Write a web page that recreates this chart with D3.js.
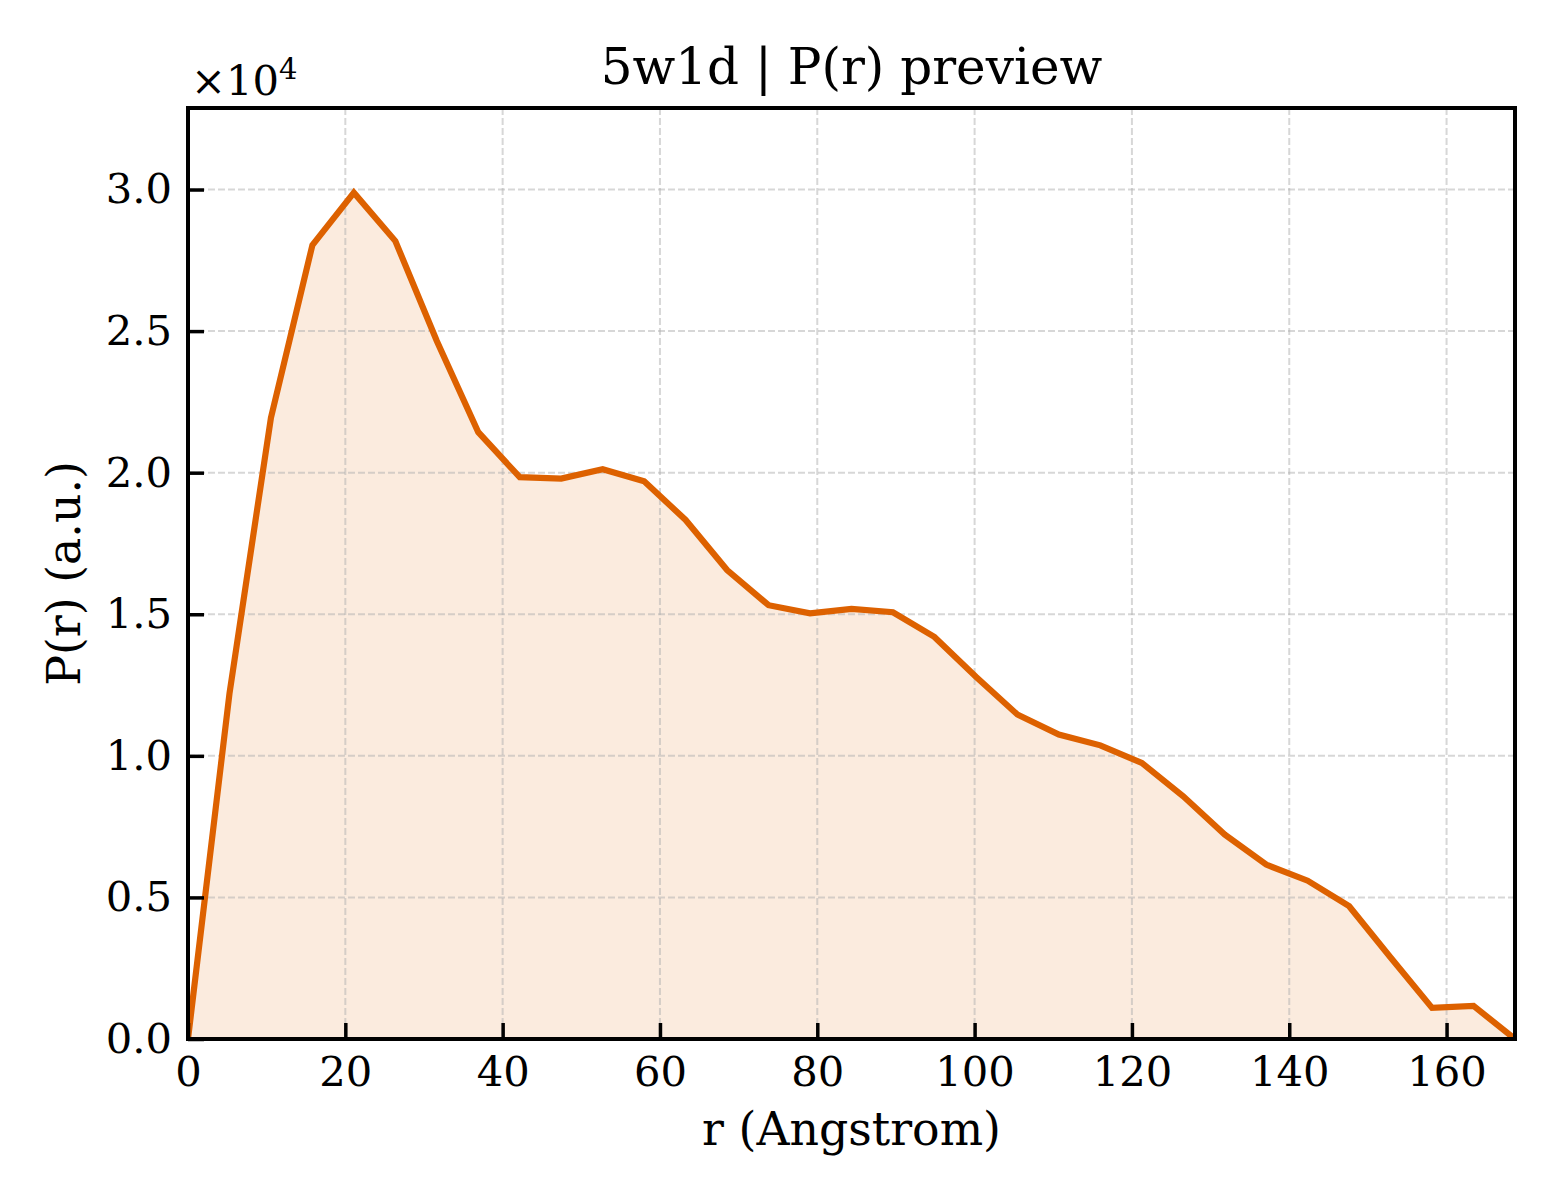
<!DOCTYPE html>
<html><head><meta charset="utf-8">
<script src="https://cdn.jsdelivr.net/npm/d3@7"></script>
<style>body{margin:0;background:#fff;} svg{display:block;}</style>
</head><body>
<svg id="chart" width="1560" height="1200"></svg>
<script>
const rMax = 168.7;
const nPoints = 33;
const pValues = [0, 1.22, 2.194, 2.804, 2.989, 2.818, 2.465, 2.143, 1.984, 1.979, 2.012, 1.970,
  1.833, 1.656, 1.532, 1.503, 1.519, 1.507, 1.420, 1.279, 1.146, 1.075, 1.037, 0.975, 0.857,
  0.722, 0.616, 0.559, 0.469, 0.288, 0.110, 0.117, 0];
const xTicks = [0, 20, 40, 60, 80, 100, 120, 140, 160];
const yTicks = [0, 0.5, 1.0, 1.5, 2.0, 2.5, 3.0];
const titleText = "5w1d | P(r) preview";
const xLabel = "r (Angstrom)";
const yLabel = "P(r) (a.u.)";

const data = pValues.map((v, i) => ({r: i * rMax / (nPoints - 1), p: v}));

const svg = d3.select("#chart");
const m = {left: 188, right: 1515, top: 108, bottom: 1039};
const x = d3.scaleLinear().domain([0, rMax]).range([m.left, m.right]);
const y = d3.scaleLinear().domain([0, 1.1 * d3.max(pValues)]).range([m.bottom, m.top]);
const font = "DejaVu Serif";
const orange = "#dd6100";

svg.append("defs").append("clipPath").attr("id", "clip")
  .append("rect").attr("x", m.left).attr("y", m.top).attr("width", m.right - m.left).attr("height", m.bottom - m.top);

// fill
svg.append("path").datum(data).attr("clip-path", "url(#clip)")
  .attr("fill", orange).attr("fill-opacity", 0.13)
  .attr("d", d3.area().x(d => x(d.r)).y0(y(0)).y1(d => y(d.p)));

// grid
const grid = svg.append("g");
xTicks.forEach(t => grid.append("line").attr("x1", x(t)).attr("x2", x(t)).attr("y1", m.top).attr("y2", m.bottom)
  .attr("stroke", "#b0b0b0").attr("stroke-opacity", 0.5).attr("stroke-width", 2).attr("stroke-dasharray", "7,3"));
yTicks.forEach(t => grid.append("line").attr("x1", m.left).attr("x2", m.right).attr("y1", y(t)).attr("y2", y(t))
  .attr("stroke", "#b0b0b0").attr("stroke-opacity", 0.5).attr("stroke-width", 2).attr("stroke-dasharray", "7,3"));

// line
svg.append("path").datum(data).attr("clip-path", "url(#clip)")
  .attr("fill", "none").attr("stroke", orange).attr("stroke-width", 6.2).attr("stroke-linejoin", "miter")
  .attr("d", d3.line().x(d => x(d.r)).y(d => y(d.p)));

// axes
const xAxis = d3.axisBottom(x).tickValues(xTicks).tickSize(-16).tickPadding(17).tickFormat(d3.format("d"));
const gx = svg.append("g").attr("transform", `translate(0,${m.bottom})`).call(xAxis);
const yAxis = d3.axisLeft(y).tickValues(yTicks).tickSize(-16).tickPadding(16).tickFormat(d3.format(".1f"));
const gy = svg.append("g").attr("transform", `translate(${m.left},0)`).call(yAxis);
[gx, gy].forEach(g => {
  g.select(".domain").remove();
  g.selectAll(".tick line").attr("stroke", "#000").attr("stroke-width", 3.5);
  g.selectAll(".tick text").attr("font-family", font).attr("font-size", 41.7).attr("fill", "#000");
});
gx.selectAll(".tick text").attr("dy", "0.71em");

// spines
svg.append("rect").attr("x", m.left).attr("y", m.top).attr("width", m.right - m.left).attr("height", m.bottom - m.top)
  .attr("fill", "none").attr("stroke", "#000").attr("stroke-width", 4);

// offset text
const off = svg.append("text").attr("x", m.left + 3).attr("y", 95).attr("font-family", font).attr("font-size", 41.7);
off.append("tspan").text("×10");
off.append("tspan").attr("font-size", 29).attr("dy", -16).text("4");

// title
svg.append("text").attr("x", (m.left + m.right) / 2).attr("y", 84).attr("text-anchor", "middle")
  .attr("font-family", font).attr("font-size", 50).text(titleText);
// x label
svg.append("text").attr("x", (m.left + m.right) / 2).attr("y", 1145).attr("text-anchor", "middle")
  .attr("font-family", font).attr("font-size", 45.8).text(xLabel);
// y label
svg.append("text").attr("transform", `translate(80,${(m.top + m.bottom) / 2}) rotate(-90)`).attr("text-anchor", "middle")
  .attr("font-family", font).attr("font-size", 45.8).text(yLabel);
</script>
</body></html>
